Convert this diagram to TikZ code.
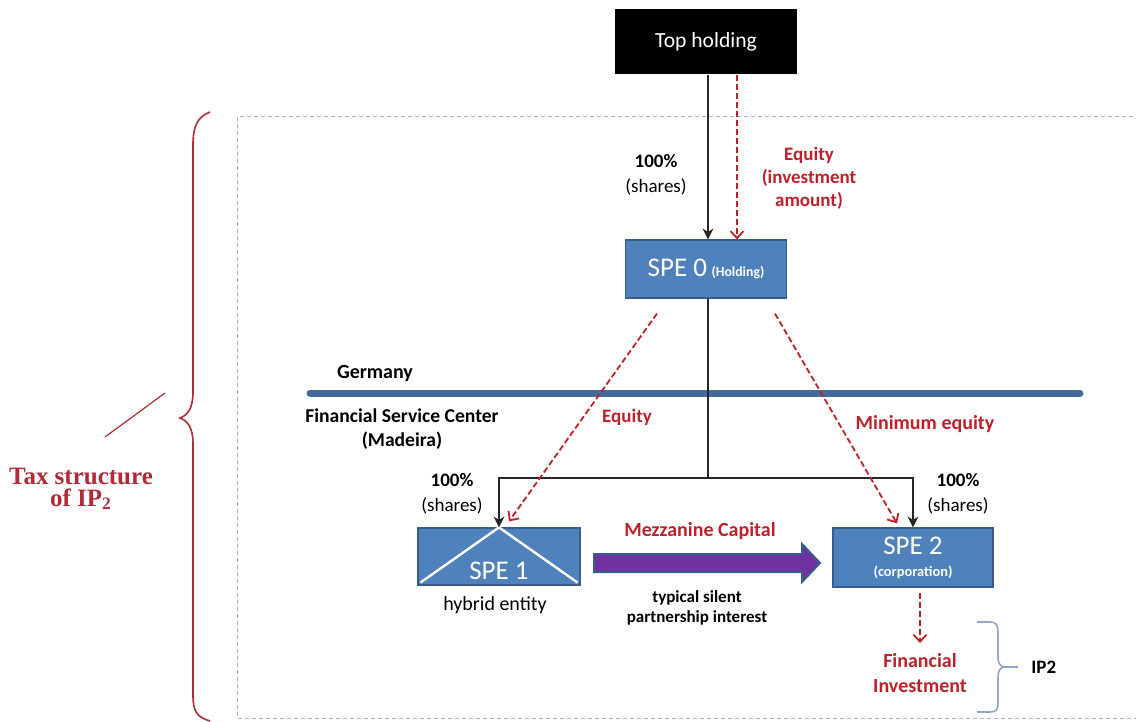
\documentclass[tikz,border=0pt]{standalone}
\usepackage{fontspec}
\setmainfont{Carlito}
\newfontfamily\serifbold{Liberation Serif}
\usetikzlibrary{arrows.meta,positioning,calc}
\definecolor{speblue}{HTML}{4F81BD}
\definecolor{spedark}{HTML}{385D8A}
\definecolor{barblue}{HTML}{44699B}
\definecolor{eqred}{HTML}{C0202A}
\definecolor{bracered}{HTML}{B02A38}
\definecolor{mezzpurple}{HTML}{7030A0}
\definecolor{framegray}{HTML}{A9B6C6}
\definecolor{ipblue}{HTML}{8FA8C6}

\begin{document}
\begin{tikzpicture}[x=0.5pt,y=-0.5pt,
  speBox/.style ={rectangle, fill=speblue, draw=spedark, line width=0.6pt, text=white, align=center, inner sep=0pt},
  topBox/.style ={rectangle, fill=black, text=white, inner sep=0pt, minimum width=91pt, minimum height=32.5pt, font=\fontsize{10.8}{12}\selectfont},
  blackLbl/.style={font=\fontsize{9.5}{12.5}\selectfont, align=center, inner sep=0pt},
  redLbl/.style  ={font=\fontsize{9.5}{11.5}\selectfont\bfseries, text=eqred, align=center, inner sep=0pt},
  own/.style     ={draw=black!85, line width=0.6pt, -{Stealth[length=5.5pt,width=5.5pt]}},
  eqArrow/.style ={draw=eqred, line width=0.9pt, dash pattern=on 3pt off 1.5pt, -{Straight Barb[length=3.5pt,width=6.5pt]}},
]
\useasboundingbox (0,0) rectangle (1136,722);

% frame of the tax structure
\draw[framegray, line width=0.5pt, dash pattern=on 2pt off 1.5pt] (1140,117) -- (237,117) -- (237,718) -- (1140,718);

% brace and its label
\draw[bracered, line width=0.8pt] (210,112) .. controls (197,117) and (193,127) .. (193,145) -- (193,392)
  .. controls (193,408) and (188,415) .. (180,418) .. controls (188,421) and (193,428) .. (193,444)
  -- (193,695) .. controls (193,712) and (197,717) .. (210,721);
\draw[bracered, line width=0.6pt] (105,437) -- (165,393);
\node[font=\serifbold\fontsize{12.5}{11}\selectfont\bfseries, text=bracered, align=center, inner sep=0pt] (taxLbl) at (81,489) {Tax structure\\of IP\textsubscript{2}};

% boxes
\node[topBox] (topH) at (706,42) {Top holding};
\node[speBox, minimum width=80.5pt, minimum height=29pt] (spe0) at (706,269)
  {{\fontsize{13.5}{15}\selectfont SPE 0} {\fontsize{6.9}{8}\selectfont\bfseries (Holding)}};
\node[speBox, minimum width=81pt, minimum height=28.5pt] (spe1) at (499,556.5) {};
\draw[white, line width=1.2pt] ([shift={(1.5pt,1.5pt)}]spe1.south west) -- (spe1.north) -- ([shift={(-1.5pt,1.5pt)}]spe1.south east);
\node[text=white, font=\fontsize{13.5}{15}\selectfont, inner sep=0pt] (spe1txt) at (499,571) {SPE 1};
\node[speBox, minimum width=80pt, minimum height=29.5pt] (spe2) at (913,557.5)
  {{\fontsize{13.5}{13}\selectfont SPE 2}\\[-1pt]{\fontsize{7.2}{8}\selectfont\bfseries (corporation)}};

% country border
\draw[barblue, line width=3.5pt, line cap=round] (310,393) -- (1080,393);
\node[blackLbl, font=\fontsize{10}{12}\selectfont\bfseries] (germany) at (375,374) {Germany};
\node[blackLbl, font=\fontsize{9.8}{12}\selectfont\bfseries] (madeira) at (402,429) {Financial Service Center\\(Madeira)};

% shares
\draw[own] ([xshift=1pt]topH.south) -- ([xshift=1pt]spe0.north);
\draw[eqArrow] ([xshift=15.5pt]topH.south) -- ([xshift=15.5pt]spe0.north);
\node[blackLbl] (sh0) at (656,175) {\textbf{100\%}\\(shares)};
\node[redLbl] (eq0) at (809,178) {Equity\\(investment\\amount)};

\coordinate (split) at (708,478);
\draw[draw=black!85, line width=0.6pt] ([xshift=1pt]spe0.south) -- (split);
\draw[own] (split) -| (spe1.north);
\draw[own] (split) -| (spe2.north);
\node[blackLbl] (sh1) at (452,494) {\textbf{100\%}\\(shares)};
\node[blackLbl] (sh2) at (958,494) {\textbf{100\%}\\(shares)};

% equity flows
\coordinate (eq1s) at ([shift={(-24.5pt,-7.5pt)}]spe0.south);
\coordinate (eq1e) at ([shift={(5pt,3pt)}]spe1.north);
\coordinate (eq2s) at ([shift={(34.5pt,-7.5pt)}]spe0.south);
\coordinate (eq2e) at ([shift={(-8pt,2pt)}]spe2.north);
\draw[eqArrow] (eq1s) -- (eq1e);
\draw[eqArrow] (eq2s) -- (eq2e);
\node[redLbl] (eq1) at (627,417) {Equity};
\node[redLbl, font=\fontsize{10}{12}\selectfont\bfseries] (eq2) at (925,424) {Minimum equity};

% mezzanine capital
\filldraw[fill=mezzpurple, draw=spedark, line width=1pt] (594,554) -- (802,554) -- (802,544) -- (820,563)
  -- (802,582) -- (802,572) -- (594,572) -- cycle;
\node[redLbl, font=\fontsize{10}{12}\selectfont\bfseries] (mezz) at (700,531) {Mezzanine Capital};
\node[blackLbl, font=\fontsize{8.5}{10}\selectfont\bfseries] (silent) at (697,608) {typical silent\\partnership interest};
\node[blackLbl, font=\fontsize{10}{12}\selectfont] (hybrid) at (495,605) {hybrid entity};

% financial investment
\node[redLbl, font=\fontsize{10}{12.5}\selectfont\bfseries] (finInv) at (920,673) {Financial\\Investment};
\draw[eqArrow] ([shift={(3.5pt,-2.5pt)}]spe2.south) -- ([yshift=5pt]finInv.north);
\draw[ipblue, line width=0.8pt] (977,622) -- (990,622) .. controls (996,622) and (998,625) .. (998,632) -- (998,657)
  .. controls (998,663) and (1000,666) .. (1004,667) -- (1018,667);
\draw[ipblue, line width=0.8pt] (1004,667) .. controls (1000,668) and (998,671) .. (998,677) -- (998,703)
  .. controls (998,710) and (996,712) .. (990,712) -- (977,712);
\node[blackLbl, font=\fontsize{9.5}{12}\selectfont\bfseries, anchor=west] (ip2) at (1031,667) {IP2};
\end{tikzpicture}
\end{document}
